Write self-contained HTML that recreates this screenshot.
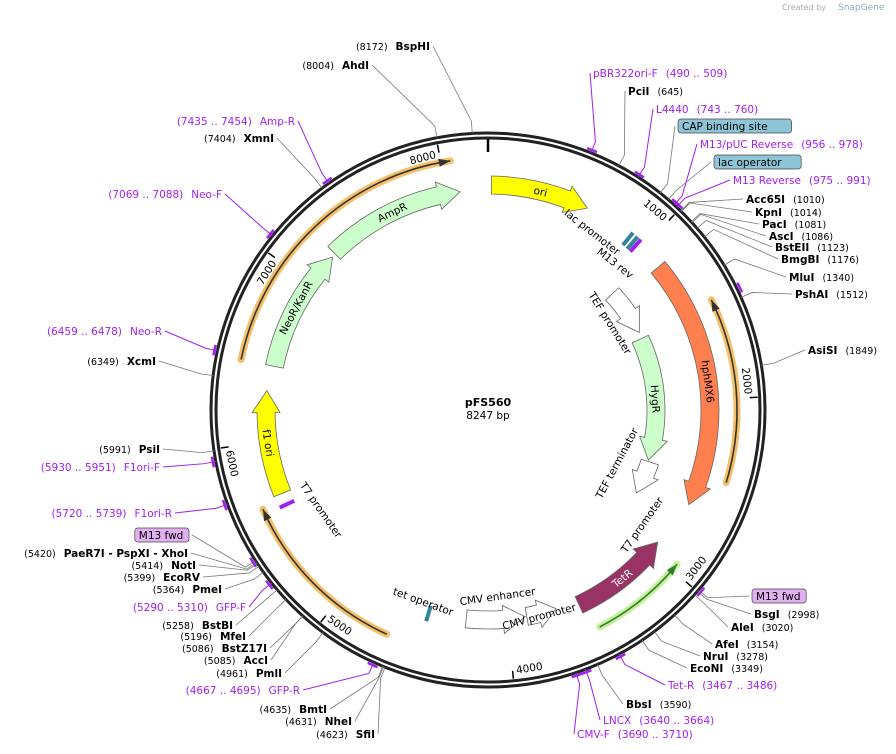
<!DOCTYPE html>
<html><head><meta charset="utf-8">
<style>
html,body{margin:0;padding:0;background:#fff;}
svg{display:block;font-family:"DejaVu Sans","Liberation Sans",sans-serif;}
.en{font-size:10.5px;font-weight:bold;fill:#000;}
.ep{font-size:9.5px;fill:#000;}
.pr{font-size:10.5px;fill:#a020f0;}
</style></head>
<body>
<svg id="map" width="896" height="754" viewBox="0 0 896 754">
<text x="782" y="10" font-size="8" fill="#aaa">Created by</text>
<text x="838" y="10" font-size="9" fill="#8ab">SnapGene</text>
<g id="g"></g>
</svg>
<script>
const TOTAL = 8247;
const featNames = ["ori","hphMX6","TEF promoter","HygR","TEF terminator","TetR","CMV promoter","CMV enhancer","f1 ori","NeoR/KanR","AmpR"];
const featStart = [20,1145,1075,1490,2470,2930,3690,3890,5680,6450,7230];
const featEnd   = [600,2640,1440,2460,2730,3550,3880,4260,6300,7205,8080];
const featDir   = [1,1,1,1,1,-1,-1,-1,1,1,1];
const featRad   = [225,222,170,168,170,215,210,210,222,218,220];
const featColor = ["#ffff00","#ff7f4f","#ffffff","#ccffcc","#ffffff","#993366","#ffffff","#ffffff","#ffff00","#ccffcc","#ccffcc"];
const featLabel = [1,1,0,1,0,1,0,0,1,1,1];
const lineNames = ["orf-right","orf-bottom","orf-bottom-left","orf-top-left"];
const lineStart = [1460,2960,4680,6450];
const lineEnd   = [2450,3500,5640,8050];
const lineDir   = [-1,-1,1,1];
const lineRad   = [249,244,246,252];
const lineColor = ["#333","#2e7d32","#333","#333"];
const lineGlow  = ["#f5c06a","#c9f0a0","#f5c06a","#f5c06a"];
const primerPos = [500,750,967,983,1467,2990,3476,3652,3700,4681,5300,5430,5730,5940,6468,7078,7444];
const tickVals = [1000,2000,3000,4000,5000,6000,7000,8000];
const siteNames = ["BspHI","AhdI","pBR322ori-F","PciI","L4440","CAP binding site","M13/pUC Reverse","lac operator","M13 Reverse","Acc65I","KpnI","PacI","AscI","BstEII","BmgBI","MluI","PshAI","AsiSI","M13 fwd","BsgI","AleI","AfeI","NruI","EcoNI","Tet-R","BbsI","LNCX","CMV-F","SfiI","NheI","BmtI","GFP-R","PmlI","AccI","BstZ17I","MfeI","BstBI","GFP-F","PmeI","EcoRV","NotI","XhoI","M13 fwd","F1ori-R","F1ori-F","PsiI","XcmI","Neo-R","Neo-F","XmnI","Amp-R"];
const sitePos = [8172,8004,500,645,751,880,967,930,983,1010,1014,1081,1086,1123,1176,1340,1512,1849,2990,2998,3020,3154,3278,3349,3476,3590,3652,3700,4623,4631,4635,4681,4961,5085,5086,5196,5258,5300,5364,5399,5414,5420,5430,5730,5940,5991,6349,6468,7078,7404,7444];
const siteSub = ["(8172)","(8004)","(490 .. 509)","(645)","(743 .. 760)","","(956 .. 978)","","(975 .. 991)","(1010)","(1014)","(1081)","(1086)","(1123)","(1176)","(1340)","(1512)","(1849)","","(2998)","(3020)","(3154)","(3278)","(3349)","(3467 .. 3486)","(3590)","(3640 .. 3664)","(3690 .. 3710)","(4623)","(4631)","(4635)","(4667 .. 4695)","(4961)","(5085)","(5086)","(5196)","(5258)","(5290 .. 5310)","(5364)","(5399)","(5414)","(5420)","","(5720 .. 5739)","(5930 .. 5951)","(5991)","(6349)","(6459 .. 6478)","(7069 .. 7088)","(7404)","(7435 .. 7454)"];
const siteType = "eepepbpbp"+"eeeeeeeee"+"b"+"eeeee"+"p"+"e"+"pp"+"eee"+"p"+"eeeee"+"p"+"eeee"+"b"+"pp"+"ee"+"pp"+"ep";
const L = [[430,50,"L"],[369,69,"L"],[593,77,"R"],[628,95,"R"],[656,113,"R"],[678,130,"R"],[700,148,"R"],[714,166,"R"],[733,184,"R"],[746,203,"R"],[755,216,"R"],[762,228,"R"],[769,240,"R"],[775,251,"R"],[781,263,"R"],[789,281,"R"],[795,298,"R"],[808,354,"R"],[752,600,"R"],[754,618,"R"],[731,631,"R"],[715,648,"R"],[703,660,"R"],[690,672,"R"],[668,689,"R"],[626,708,"R"],[603,724,"R"],[577,738,"R"],[375,738,"L"],[352,725,"L"],[327,713,"L"],[300,694,"L"],[282,677,"L"],[268,664,"L"],[267,652,"L"],[246,640,"L"],[233,629,"L"],[246,611,"L"],[222,593,"L"],[200,581,"L"],[196,569,"L"],[188,557,"L"],[189,539,"L"],[172,517,"L"],[160,471,"L"],[160,453,"L"],[156,365,"L"],[162,335,"L"],[222,198,"L"],[274,142,"L"],[295,125,"L"]];

const NS="http://www.w3.org/2000/svg";
const g=document.getElementById('g');
const cx=488, cy=410, R=275;
function ang(p){return p/TOTAL*2*Math.PI;}
function pt(r,p){const a=ang(p);return [cx+r*Math.sin(a), cy-r*Math.cos(a)];}
function el(tag,attrs,parent){const e=document.createElementNS(NS,tag);for(const k in attrs)e.setAttribute(k,attrs[k]);(parent||g).appendChild(e);return e;}
function arcD(r,p1,p2){const a=pt(r,p1),b=pt(r,p2);const large=(p2-p1)/TOTAL>0.5?1:0;return `M${a[0]} ${a[1]} A${r} ${r} 0 ${large} 1 ${b[0]} ${b[1]}`;}

let c1=el('circle',{cx,cy,r:R+2,fill:'none',stroke:'#222','stroke-width':3});


let c2=el('circle',{cx,cy,r:R-3,fill:'none',stroke:'#222','stroke-width':3});


let z=el('line',{x1:cx,y1:cy-R+4,x2:cx,y2:cy-R+17,stroke:'#000','stroke-width':2.5});



tickVals.forEach(v=>{
  const a=pt(R-5,v),b=pt(R-13,v),t=pt(R-14,v-85);
  const tk=el('line',{x1:a[0],y1:a[1],x2:b[0],y2:b[1],stroke:'#000','stroke-width':1.5});
  
  
  let deg=(v-85)/TOTAL*360; let rot=(deg>90&&deg<270)?deg-180:deg;
  const tx=el('text',{x:t[0],y:t[1]+4,'text-anchor':'middle','font-size':10.5,transform:`rotate(${rot} ${t[0]} ${t[1]})`});
  tx.textContent=v;
  
  
});

siteNames.forEach((n,i)=>{
  const [x,y,side]=L[i];const type=siteType[i];
  const c=pt(R+2,sitePos[i]), k=pt(R+14,sitePos[i]);
  const ax=side==="R"?x-3:x+3;
  const col=type==="p"?"#a020f0":"#777";
  const ln=el('polyline',{points:`${c[0]},${c[1]} ${k[0]},${k[1]} ${ax},${y-4}`,fill:'none',stroke:col,'stroke-width':type==="p"?1:0.8});
  
  
  const grp=el('g',{});
  
  
  if(type==="b"){
    const w=n.length*6.6+8;
    const bx=side==="R"?x:x-w;
    const fill=n.startsWith("M13")?"#e0b0f0":"#8ec5d6";
    el('rect',{x:bx,y:y-11,width:w,height:14,rx:3,fill:fill,stroke:'#444','stroke-width':0.7},grp);
    const t=el('text',{x:bx+4,y:y,'font-size':10.5,fill:'#000'},grp);t.textContent=n;
  } else {
    const t=el('text',{x:x,y:y,'text-anchor':side==="R"?'start':'end'},grp);
    if(side==="R"){
      const a=el('tspan',{class:type==="p"?'pr':'en'},t);a.textContent=n;
      const b=el('tspan',{class:type==="p"?'pr':'ep',dx:8},t);b.textContent=siteSub[i];
    } else {
      const b=el('tspan',{class:type==="p"?'pr':'ep'},t);b.textContent=siteSub[i];
      const a=el('tspan',{class:type==="p"?'pr':'en',dx:8},t);a.textContent=(n==="XhoI"?"PaeR7I  - PspXI  - XhoI":n);
    }
  }
});

primerPos.forEach((p,i)=>{
  const d=arcD(R+5,p-25,p+25);
  const m=el('path',{d,fill:'none',stroke:'#a020f0','stroke-width':2.5});
  
  
});

lineNames.forEach((n,i)=>{
  const glow=el('path',{d:arcD(lineRad[i],lineStart[i],lineEnd[i]),fill:'none',stroke:lineGlow[i],'stroke-width':7,'stroke-linecap':'round'});
  
  
  const ln=el('path',{d:arcD(lineRad[i],lineStart[i],lineEnd[i]),fill:'none',stroke:lineColor[i],'stroke-width':1.6});
  
  
  const tip=lineDir[i]>0?lineEnd[i]:lineStart[i];
  const back=tip-lineDir[i]*60;
  const a=pt(lineRad[i],tip),b=pt(lineRad[i]-4,back),c=pt(lineRad[i]+4,back);
  const h=el('polygon',{points:`${a[0]},${a[1]} ${b[0]},${b[1]} ${c[0]},${c[1]}`,fill:lineColor[i]});
  
  
});

featNames.forEach((n,i)=>{
  const r=featRad[i],w=9,hw=14;
  const s=featStart[i],e=featEnd[i],dir=featDir[i];
  const headBp=Math.min(22/r/(2*Math.PI)*TOTAL,(e-s)*0.6);
  let d;
  if(dir>0){
    const he=e-headBp;
    const o1=pt(r+w,s),o2=pt(r+w,he),h1=pt(r+hw,he),tp=pt(r,e),h2=pt(r-hw,he),i2=pt(r-w,he),i1=pt(r-w,s);
    const lg=(he-s)/TOTAL>0.5?1:0;
    d=`M${o1} A${r+w} ${r+w} 0 ${lg} 1 ${o2} L${h1} L${tp} L${h2} L${i2} A${r-w} ${r-w} 0 ${lg} 0 ${i1} Z`;
  } else {
    const hs=s+headBp;
    const tp=pt(r,s),h1=pt(r+hw,hs),o1=pt(r+w,hs),o2=pt(r+w,e),i2=pt(r-w,e),i1=pt(r-w,hs),h2=pt(r-hw,hs);
    d=`M${tp} L${h1} L${o1} A${r+w} ${r+w} 0 0 1 ${o2} L${i2} A${r-w} ${r-w} 0 0 0 ${i1} L${h2} Z`;
  }
  const p=el('path',{d:d.replace(/,/g,' '),fill:featColor[i],stroke:'#666','stroke-width':0.8});
  
  
  if(featLabel[i]){
    const m=(s+e)/2, deg=m/TOTAL*360, q=pt(r,m);
    const rot=(deg>90&&deg<270)?deg-180:deg;
    const t=el('text',{x:q[0],y:q[1]+4,'text-anchor':'middle','font-size':10.5,fill:featColor[i]==="#993366"?'#fff':'#000',transform:`rotate(${rot} ${q[0]} ${q[1]})`});
    t.textContent=n;
    
    
  }
});

[[900,"#31849b"],[935,"#31849b"],[960,"#a020f0"],[4497,"#31849b"],[5610,"#a020f0"]].forEach(([p,col],i)=>{
  const rr=p>4000&&p<5000?212:(p>5000?222:221);
  const a=pt(rr-8,p),b=pt(rr+8,p);
  const m=el('line',{x1:a[0],y1:a[1],x2:b[0],y2:b[1],stroke:col,'stroke-width':4});
  
  
});

[["lac promoter",590,235,38],["M13 rev",613,266,38],["TEF promoter",607,325,58],["TEF terminator",620,465,-62],["T7 promoter",645,527,-55],["CMV enhancer",498,600,-8],["CMV promoter",540,620,-15],["tet operator",422,605,20],["T7 promoter",318,512,55]].forEach(([s,x,y,r])=>{
  const t=el('text',{x,y,'text-anchor':'middle','font-size':10.5,transform:`rotate(${r} ${x} ${y})`});
  t.textContent=s;
  
  
});

const tt=el('text',{x:cx,y:406,'text-anchor':'middle','font-size':11,'font-weight':'bold'});
tt.textContent="pFS560";


const tb=el('text',{x:cx,y:419,'text-anchor':'middle','font-size':10.5});
tb.textContent="8247 bp";


</script>
</body></html>
